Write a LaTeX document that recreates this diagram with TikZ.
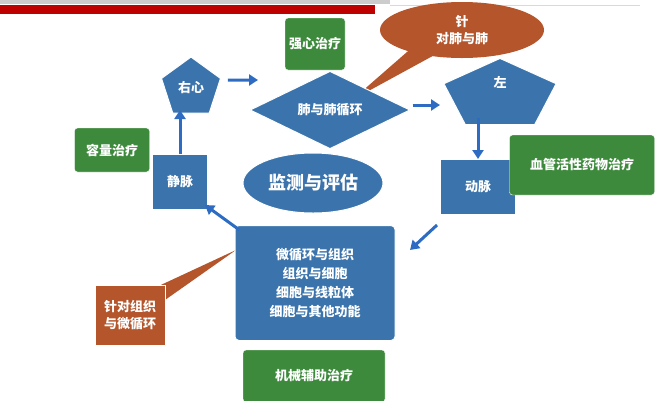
\documentclass[tikz,border=0pt]{standalone}
\usepackage{fontspec}
\setmainfont{Noto Sans CJK SC}
\usetikzlibrary{shapes.geometric,arrows.meta}
\definecolor{bl}{HTML}{3B74AC}
\definecolor{gr}{HTML}{3D8A3C}
\definecolor{br}{HTML}{B4552C}
\definecolor{ar}{HTML}{2E6CC4}
\newcommand{\fs}{\fontsize{13}{17}\selectfont\bfseries}
\begin{document}
\begin{tikzpicture}[x=1pt,y=-1pt,
 blue/.style={fill=bl,draw=white,line width=1pt,text=white,font=\fs},
 greenbox/.style={fill=gr,draw=white,rounded corners=3pt,text=white,font=\fs,inner sep=2pt},
 brownbox/.style={fill=br,draw=white,text=white,font=\fs},
 arr/.style={-{Triangle[length=9pt,width=11pt]},draw=ar,line width=3pt}]
\useasboundingbox (0,0) rectangle (660,400);
\fill[gray!40] (0,0) rectangle (390,4);
\draw[gray!30,line width=1pt] (390,5) -- (640,5);
\fill[red!75!black] (0,5) rectangle (375,14);
% callout tails
\fill[br] (415,45) -- (440,52) -- (352,100) -- cycle;
\fill[br] (150,290) -- (165,300) -- (236,250) -- cycle;
\node[greenbox,minimum width=60pt,minimum height=52pt] (qx) at (315,44) {强心治疗};
\node[ellipse,fill=br,text=white,font=\fs,minimum width=164pt,minimum height=56pt,align=center] (zfb) at (462,30) {针\\对肺与肺};
\node[blue,regular polygon,regular polygon sides=5,minimum size=62pt,inner sep=0pt] (rh) at (191,88) {右心};
\node[blue,diamond,minimum width=160pt,minimum height=72pt,inner sep=0pt] (lung) at (330,110) {肺与肺循环};
\node[blue,regular polygon,regular polygon sides=5,minimum size=118pt,inner sep=0pt,yscale=0.62] (lh) at (500,95) {};
\node[text=white,font=\fs] (lht) at (500,82) {左};
\node[blue,minimum width=55pt,minimum height=55pt] (vein) at (180,182) {静脉};
\node[greenbox,minimum width=75pt,minimum height=44pt] (rl) at (112,150) {容量治疗};
\node[blue,ellipse,minimum width=140pt,minimum height=60pt,font=\fontsize{18}{22}\selectfont\bfseries] (jc) at (313,183) {监测与评估};
\node[blue,minimum width=75pt,minimum height=55pt] (art) at (478,187) {动脉};
\node[greenbox,minimum width=145pt,minimum height=60pt] (xg) at (582,165) {血管活性药物治疗};
\node[blue,rounded corners=4pt,minimum width=160pt,minimum height=115pt,align=center] (mc) at (315,283) {微循环与组织\\[2pt]组织与细胞\\[2pt]细胞与线粒体\\[2pt]细胞与其他功能};
\node[brownbox,minimum width=70pt,minimum height=60pt,align=center] (zz) at (130,315) {针对组织\\与微循环};
\node[greenbox,minimum width=142pt,minimum height=52pt] (jx) at (314,376) {机械辅助治疗};
\draw[arr] (rh.east)+(10,-8) -- (258,80);
\draw[arr] (lung.east)+(2,-5) -- (440,105);
\draw[arr] (478,118) -- (art.north);
\draw[arr] (art.south west)+(-3,10) -- (410,250);
\draw[arr] (mc.north west)+(5,5) -- (205,205);
\draw[arr] (vein.north) -- (180,110);
\end{tikzpicture}
\end{document}
